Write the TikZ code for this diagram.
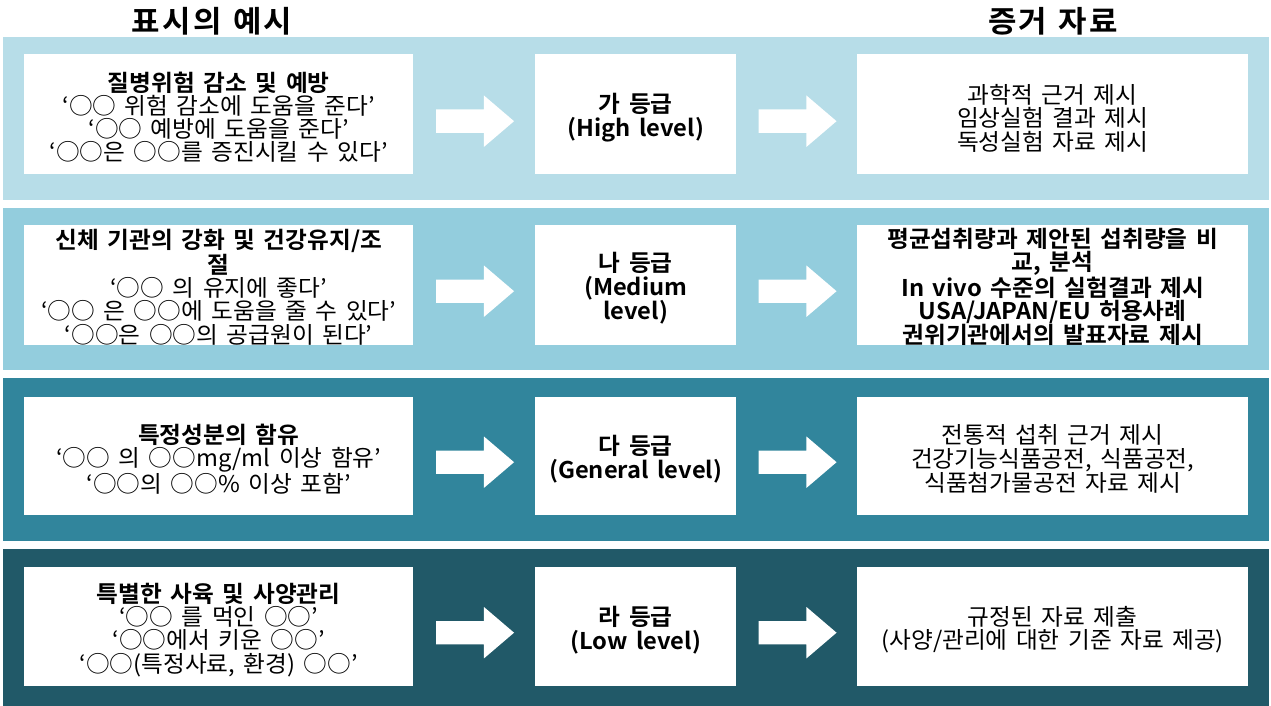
\documentclass[tikz,border=0pt]{standalone}
\usepackage{fontspec}
\setmainfont{Noto Sans CJK KR}[BoldFont={Noto Sans CJK KR Bold}, WordSpace=1.6, FakeStretch=1.03]
\usetikzlibrary{shapes.arrows,calc}
\definecolor{bandA}{HTML}{B7DDE8}
\definecolor{bandB}{HTML}{93CDDD}
\definecolor{bandC}{HTML}{31859C}
\definecolor{bandD}{HTML}{215968}

\begin{document}
\begin{tikzpicture}[x=1pt,y=-1pt,
  card/.style={fill=white, draw=none, inner sep=0pt, anchor=north west},
  leftcard/.style={card, minimum width=389pt, minimum height=#1},
  gradecard/.style={card, minimum width=201pt, minimum height=#1},
  proofcard/.style={card, minimum width=391pt, minimum height=#1},
  cardtext/.style={inner sep=0pt, align=center, font=\fontsize{23}{23.3}\selectfont},
  gradetext/.style={cardtext, font=\fontsize{23}{24}\selectfont\bfseries},
  blockarrow/.style={single arrow, fill=white, draw=none, inner sep=0pt,
    text height=11.5pt, text depth=11.5pt, text width=0pt,
    minimum height=78pt, minimum width=51pt, single arrow head extend=14pt,
    single arrow tip angle=81},
  heading/.style={font=\fontsize{30}{31}\selectfont\bfseries, inner sep=0pt}
]
\useasboundingbox (0,0) rectangle (1271,706);
\fill[white] (0,0) rectangle (1271,706);

% column headings
\node[heading] (h1) at (212,21) {표\kern2.5pt 시\kern2.5pt 의 예\kern2.5pt 시};
\node[heading] (h2) at (1053,21) {증\kern2.5pt 거 자\kern2.5pt 료};

% coloured bands
\fill[bandA] (3,37) rectangle (1269,200);
\fill[bandB] (3,208) rectangle (1269,370);
\fill[bandC] (3,378) rectangle (1269,541);
\fill[bandD] (3,549) rectangle (1269,706);

% white cards
\node[leftcard=120pt]  (L1) at (24,54) {};
\node[gradecard=120pt] (M1) at (535,54) {};
\node[proofcard=120pt] (R1) at (857,54) {};
\node[leftcard=120pt]  (L2) at (24,225) {};
\node[gradecard=120pt] (M2) at (535,225) {};
\node[proofcard=120pt] (R2) at (857,225) {};
\node[leftcard=118pt]  (L3) at (24,397) {};
\node[gradecard=118pt] (M3) at (535,397) {};
\node[proofcard=118pt] (R3) at (857,397) {};
\node[leftcard=119pt]  (L4) at (24,567) {};
\node[gradecard=119pt] (M4) at (535,567) {};
\node[proofcard=119pt] (R4) at (857,567) {};

% card texts
\node[cardtext] (L1t) at ($(L1.center)+(0,3)$) {\textbf{질병위험 감소 및 예방}\\‘○○ 위험 감소에 도움을 준다’\\‘○○ 예방에 도움을 준다’\\‘○○은 ○○를 증진시킬 수 있다’};
\node[gradetext] (M1t) at ($(M1.center)+(0,3)$) {가 등급\\(High level)};
\node[cardtext] (R1t) at ($(R1.center)+(0,4)$) {과학적 근거 제시\\임상실험 결과 제시\\독성실험 자료 제시};

\node[cardtext] (L2t) at ($(L2.center)+(0,2)$) {\textbf{신체 기관의 강화 및 건강유지/조}\\\textbf{절}\\‘○○ 의 유지에 좋다’\\‘○○ 은 ○○에 도움을 줄 수 있다’\\‘○○은 ○○의 공급원이 된다’};
\node[gradetext] (M2t) at ($(M2.center)+(0,3)$) {나 등급\\(Medium\\level)};
\node[cardtext, font=\fontsize{23}{23}\selectfont\bfseries] (R2t) at ($(R2.center)+(0,2)$) {평균섭취량과 제안된 섭취량을 비\\교, 분석\\In vivo 수준의 실험결과 제시\\USA/JAPAN/EU 허용사례\\권위기관에서의 발표자료 제시};

\node[cardtext] (L3t) at ($(L3.center)+(0,3)$) {\textbf{특정성분의 함유}\\‘○○ 의 ○○mg/ml 이상 함유’\\‘○○의 ○○\% 이상 포함’};
\node[gradetext] (M3t) at ($(M3.center)+(0,3)$) {다 등급\\(General level)};
\node[cardtext] (R3t) at ($(R3.center)+(0,3)$) {전통적 섭취 근거 제시\\건강기능식품공전, 식품공전,\\식품첨가물공전 자료 제시};

\node[cardtext] (L4t) at ($(L4.center)+(0,3)$) {\textbf{특별한 사육 및 사양관리}\\‘○○ 를 먹인 ○○’\\‘○○에서 키운 ○○’\\‘○○(특정사료, 환경) ○○’};
\node[gradetext] (M4t) at ($(M4.center)+(0,3)$) {라 등급\\(Low level)};
\node[cardtext] (R4t) at ($(R4.center)+(0,3)$) {규정된 자료 제출\\(사양/관리에 대한 기준 자료 제공)};

% block arrows between the cards
\foreach \i/\dy in {1/7,2/6,3/6,4/6} {
  \node[blockarrow] (a\i l) at ($(L\i.east)!0.5!(M\i.west)+(-6,\dy)$) {};
  \node[blockarrow] (a\i r) at ($(M\i.east)!0.5!(R\i.west)+(-6,\dy)$) {};
}
\end{tikzpicture}
\end{document}
